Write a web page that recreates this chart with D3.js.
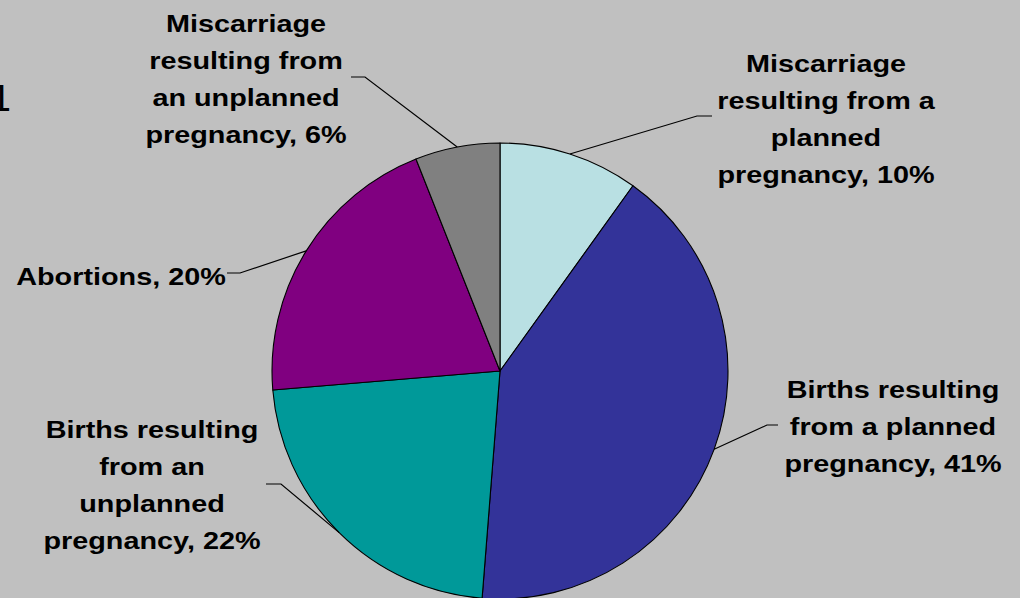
<!DOCTYPE html>
<html>
<head>
<meta charset="utf-8">
<script src="https://cdn.jsdelivr.net/npm/d3@7"></script>
<style>
  html, body { margin: 0; padding: 0; background: #c0c0c0; }
  svg { display: block; }
</style>
</head>
<body>
<script>
// ---- data ----
const categories = [
  "Miscarriage\nresulting from a\nplanned\npregnancy",
  "Births resulting\nfrom a planned\npregnancy",
  "Births resulting\nfrom an\nunplanned\npregnancy",
  "Abortions",
  "Miscarriage\nresulting from\nan unplanned\npregnancy"
];
const values = [9.9, 41.3, 22.4, 20.3, 6.0];
const percentLabels = ["10%", "41%", "22%", "20%", "6%"];
const colors = ["#b9e0e3", "#333399", "#009999", "#800080", "#808080"];

// ---- layout ----
const W = 1020, H = 598;
const cx = 500, cy = 371, R = 228;
const fontSize = 24, lineGap = 37, stretch = 1.2;
const labelLayout = [
  { x: 826, y: 72,  elbow: [697, 116], end: [712, 116] },
  { x: 893, y: 398, elbow: [767, 425], end: [778, 425] },
  { x: 152, y: 438, elbow: [281, 484], end: [266, 484] },
  { x: 121, y: 285, elbow: [240, 273], end: [227, 273] },
  { x: 246, y: 32,  elbow: [365, 77],  end: [351, 77] }
];

const svg = d3.select("body").append("svg")
  .attr("width", W).attr("height", H);

svg.append("rect").attr("width", W).attr("height", H).attr("fill", "#c0c0c0");

// clipped glyph at the left edge
svg.append("text")
  .attr("x", -10.5).attr("y", 111)
  .attr("font-family", "DejaVu Sans")
  .attr("font-size", 36)
  .attr("fill", "#000")
  .text("1");

const pie = d3.pie().sort(null).value(d => d)(values);
const arc = d3.arc().innerRadius(0).outerRadius(R);

const g = svg.append("g").attr("transform", `translate(${cx},${cy})`);
g.selectAll("path.slice").data(pie).enter().append("path")
  .attr("class", "slice")
  .attr("d", arc)
  .attr("fill", (d, i) => colors[i])
  .attr("stroke", "#000")
  .attr("stroke-width", 1.1)
  .attr("stroke-linejoin", "round");

// leader lines
pie.forEach((d, i) => {
  const a = (d.startAngle + d.endAngle) / 2;
  const p0 = [cx + R * Math.sin(a), cy - R * Math.cos(a)];
  const L = labelLayout[i];
  svg.append("path")
    .attr("d", d3.line()([p0, L.elbow, L.end]))
    .attr("fill", "none")
    .attr("stroke", "#000")
    .attr("stroke-width", 1.2);
});

// labels
categories.forEach((c, i) => {
  const L = labelLayout[i];
  const lines = c.split("\n");
  lines[lines.length - 1] += ", " + percentLabels[i];
  const t = svg.append("g")
    .attr("transform", `translate(${L.x},${L.y}) scale(${stretch},1)`)
    .append("text")
    .attr("text-anchor", "middle")
    .attr("font-family", "Liberation Sans, Arial, sans-serif")
    .attr("font-weight", "bold")
    .attr("font-size", fontSize)
    .attr("fill", "#000");
  lines.forEach((ln, j) => {
    t.append("tspan").attr("x", 0).attr("y", j * lineGap).text(ln);
  });
});
</script>
</body>
</html>
